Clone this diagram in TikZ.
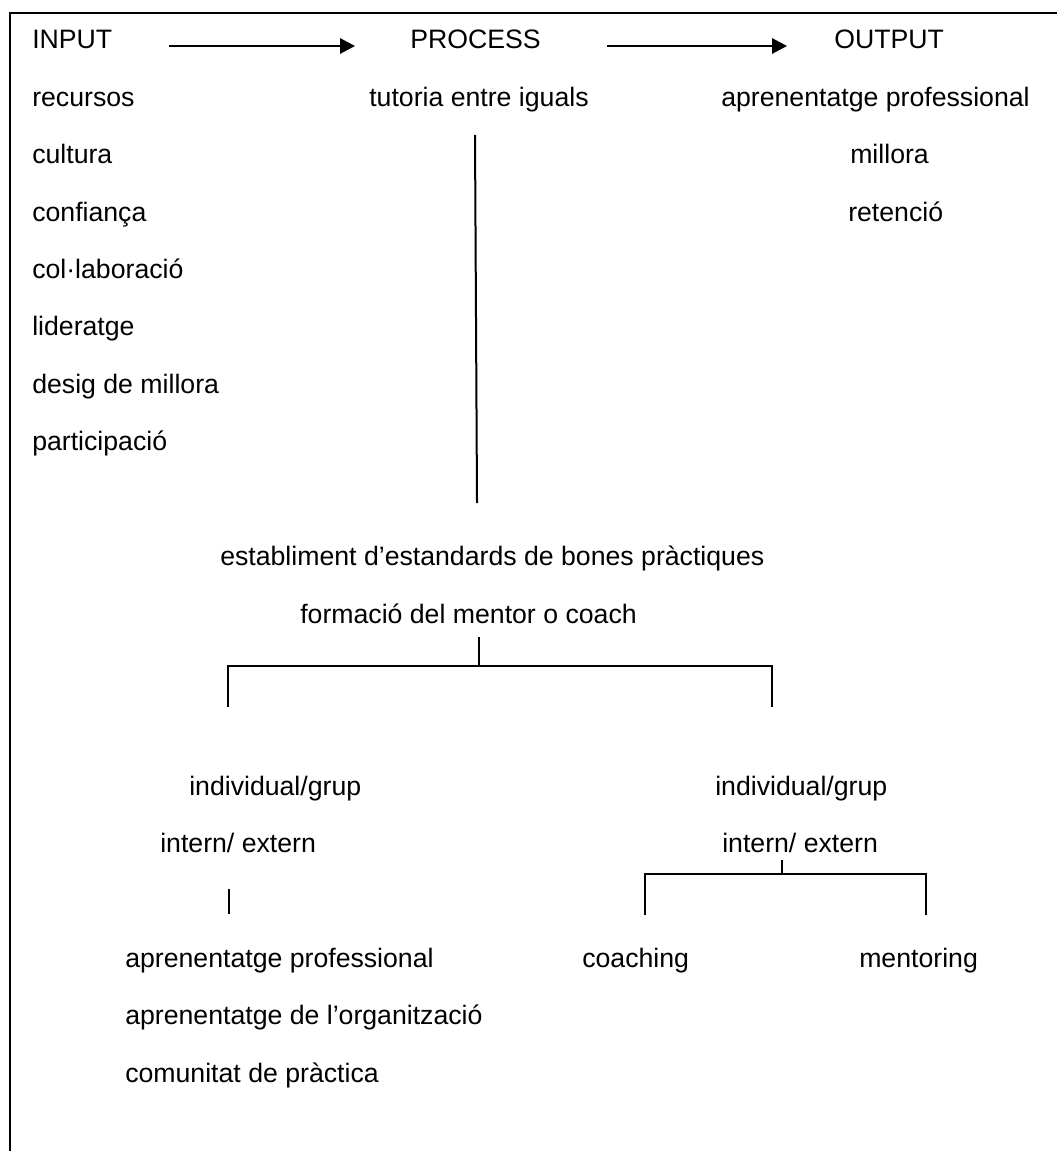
\documentclass[tikz,border=0pt]{standalone}
\usepackage{fontspec}
\setmainfont{Liberation Sans}
\usetikzlibrary{arrows.meta,calc}
\begin{document}
\begin{tikzpicture}[x=0.75pt,y=-0.75pt,
  lbl/.style={anchor=base west,inner sep=0pt,font=\fontsize{20pt}{24pt}\selectfont},
  ln/.style={line width=1.5pt,line cap=rect},
  flow/.style={line width=1.5pt,-{Triangle[length=11.25pt,width=11.5pt]}}]
\useasboundingbox (0,0) rectangle (1056,1151);

% frame: top and left rules only
\draw[ln] (10,1151) -- (10,13) -- (1060,13);

% header row
\node[lbl] (input)   at (32,49)  {INPUT};
\node[lbl] (process) at (410,49) {PROCESS};
\node[lbl] (output)  at (834,49) {OUTPUT};
\draw[flow] ($(input.base east)+(56,-3)$) -- ($(process.base west)+(-55,-3)$);
\draw[flow] ($(process.base east)+(66,-3)$) -- ($(output.base west)+(-47,-3)$);

% inputs
\node[lbl] (recursos) at (32,106.4) {recursos};
\node[lbl] (cultura)  at (32,163.8) {cultura};
\node[lbl] (confianca) at (32,221.2) {confiança};
\node[lbl] (colab)    at (32,278.6) {col·laboració};
\node[lbl] (lider)    at (32,336)   {lideratge};
\node[lbl] (desig)    at (32,393.4) {desig de millora};
\node[lbl] (partic)   at (32,450.8) {participació};

% process
\node[lbl] (tutoria) at (369,106.4) {tutoria entre iguals};
\node[lbl] (establ)  at (220,565.6) {establiment d’estandards de bones pràctiques};
\node[lbl] (formacio) at (300,623)  {formació del mentor o coach};

% outputs
\node[lbl] (aprenout) at (721,106.4) {aprenentatge professional};
\node[lbl] (millora)  at (850,163.8) {millora};
\node[lbl] (retencio) at (848,221.2) {retenció};

% branches
\node[lbl] (indivL) at (189,795.2) {individual/grup};
\node[lbl] (internL) at (160,852.6) {intern/ extern};
\node[lbl] (indivR) at (715,795.2) {individual/grup};
\node[lbl] (internR) at (722,852.6) {intern/ extern};

\node[lbl] (aprenprof) at (125,967.4)  {aprenentatge professional};
\node[lbl] (aprenorg)  at (125,1024.8) {aprenentatge de l’organització};
\node[lbl] (comunitat) at (125,1082.2) {comunitat de pràctica};
\node[lbl] (coaching)  at (582,967.4)  {coaching};
\node[lbl] (mentoring) at (859,967.4)  {mentoring};

% connector from tutoria down to the standards
\coordinate (ptop) at (475,136);
\coordinate (pbot) at (477,502);
\draw[ln] (ptop) -- (pbot);

% bracket under formació
\coordinate (fb) at (479,666);
\coordinate (fl) at (228,706);
\coordinate (fr) at (772,706);
\draw[ln] (fb) -- ++(0,-28);
\draw[ln] (fl) |- (fb) -| (fr);

% tick above the left outcomes
\coordinate (lt) at (229,890);
\draw[ln] (lt) -- ++(0,23);

% bracket under the right intern/ extern
\coordinate (rb) at (782,874);
\coordinate (rl) at (645,914);
\coordinate (rr) at (926,914);
\draw[ln] (rb) -- ++(0,-13);
\draw[ln] (rl) |- (rb) -| (rr);
\end{tikzpicture}
\end{document}
